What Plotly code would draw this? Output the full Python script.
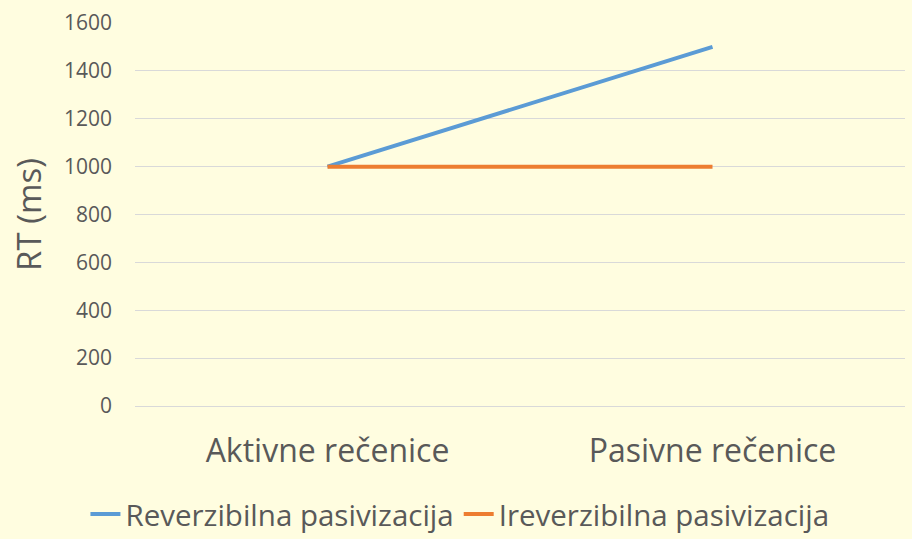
import plotly.graph_objects as go

categories = ["Aktivne rečenice", "Pasivne rečenice"]
reverzibilna = [1000, 1500]
ireverzibilna = [1000, 1000]
y_ticks = [0, 200, 400, 600, 800, 1000, 1200, 1400, 1600]

FONT = "Open Sans, Noto Sans, sans-serif"
TXT = "#595959"

fig = go.Figure()
fig.add_trace(go.Scatter(x=categories, y=reverzibilna, mode="lines",
                         name="Reverzibilna pasivizacija",
                         line=dict(color="#5B9BD5", width=4)))
fig.add_trace(go.Scatter(x=categories, y=ireverzibilna, mode="lines",
                         name="Ireverzibilna pasivizacija",
                         line=dict(color="#ED7D31", width=4)))

fig.update_layout(
    width=912, height=539,
    paper_bgcolor="#FFFDE0", plot_bgcolor="#FFFDE0",
    margin=dict(l=135, r=7, t=23, b=133, autoexpand=False),
    font=dict(family=FONT, color=TXT),
    showlegend=True,
    legend=dict(orientation="h", x=0.422, xanchor="center", y=-0.215, yanchor="top",
                font=dict(size=29.5, color=TXT), bgcolor="rgba(0,0,0,0)",
                itemwidth=30, tracegroupgap=0),
    xaxis=dict(type="category", range=[-0.5, 1.5], showgrid=False, showline=False,
               ticks="", tickfont=dict(size=32, color=TXT), ticklabelstandoff=23),
    yaxis=dict(range=[0, 1600], tickvals=y_ticks, showgrid=True, gridcolor="#D9D9D9",
               gridwidth=1, zeroline=True, zerolinecolor="#D9D9D9", zerolinewidth=1,
               ticks="", tickfont=dict(size=21, color=TXT), ticklabelstandoff=22,
               title=dict(text="RT (ms)", font=dict(size=33, color=TXT), standoff=12)),
)

fig.write_html("out.html", config={"displayModeBar": False},
               post_script="document.body.style.margin='0';")
